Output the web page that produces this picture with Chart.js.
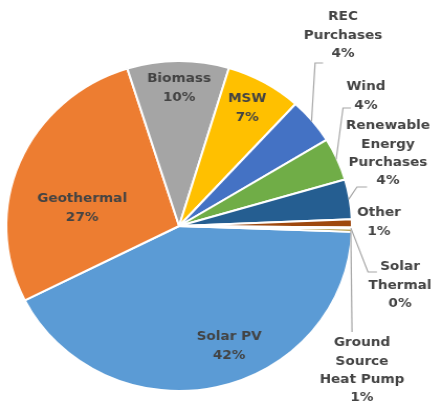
<!DOCTYPE html>
<html>
<head>
<meta charset="utf-8">
<script src="https://cdn.jsdelivr.net/npm/chart.js@4/dist/chart.umd.min.js"></script>
<style>
html,body{margin:0;padding:0;background:#fff;overflow:hidden;}
#wrap{width:422px;height:406px;position:relative;transform:scaleX(1.0474);transform-origin:0 0;}
</style>
</head>
<body>
<div id="wrap"><canvas id="c" width="422" height="406"></canvas></div>
<script>
// Data (Excel series order, clockwise from Solar PV)
const categories = [
  ['Solar PV'], ['Geothermal'], ['Biomass'], ['MSW'], ['REC', 'Purchases'],
  ['Wind'], ['Renewable', 'Energy', 'Purchases'], ['Other'], ['Solar', 'Thermal'],
  ['Ground', 'Source', 'Heat Pump']
];
const values = [42.0, 27.6, 9.5, 7.1, 4.5, 4.2, 3.9, 0.8, 0.1, 0.3];
const pctLabels = ['42%', '27%', '10%', '7%', '4%', '4%', '4%', '1%', '0%', '1%'];
const colors = ['#5B9BD5', '#ED7D31', '#A5A5A5', '#FFC000', '#4472C4', '#70AD47',
                '#255E91', '#9E480E', '#636363', '#997300'];

// Label layout: text anchor (first line centre) as offset from the pie centre, px
const labelLayout = [
  {dx: 47.7, dy: 111}, {dx: -92.6, dy: -27}, {dx: 0, dy: -147}, {dx: 65, dy: -127},
  {dx: 156.5, dy: -209, lead: [[129.8, -163], [137.4, -163]]},
  {dx: 178.4, dy: -139, lead: [[156.5, -118], [164.1, -118]]},
  {dx: 199.4, dy: -100, lead: [[169.8, -39], [179.4, -39]]},
  {dx: 190.8, dy: -13},
  {dx: 210.9, dy: 41, lead: [[180.3, 46], [188.9, 46]]},
  {dx: 174.6, dy: 117, lead: [[165.1, 106]]}
];
const lineH = 18.3;

const labelPlugin = {
  id: 'pieLabels',
  afterDatasetsDraw(chart) {
    const ctx = chart.ctx;
    const meta = chart.getDatasetMeta(0);
    ctx.save();
    meta.data.forEach((arc, i) => {
      const p = arc.getProps(['x', 'y', 'startAngle', 'endAngle', 'outerRadius'], true);
      const L = labelLayout[i];
      if (L.lead) {
        const mid = (p.startAngle + p.endAngle) / 2;
        const r = p.outerRadius - 1;
        ctx.beginPath();
        ctx.strokeStyle = '#A6A6A6';
        ctx.lineWidth = 1.2;
        ctx.moveTo(p.x + r * Math.cos(mid), p.y + r * Math.sin(mid));
        L.lead.forEach(pt => ctx.lineTo(p.x + pt[0], p.y + pt[1]));
        ctx.stroke();
      }
      const lines = categories[i].concat([pctLabels[i]]);
      ctx.fillStyle = '#434343';
      ctx.font = 'bold 13px "DejaVu Sans"';
      ctx.textAlign = 'center';
      ctx.textBaseline = 'middle';
      lines.forEach((t, k) => {
        ctx.fillText(t, p.x + L.dx, p.y + L.dy + k * lineH);
      });
    });
    ctx.restore();
  }
};

new Chart(document.getElementById('c'), {
  type: 'pie',
  data: {
    labels: categories.map(c => c.join(' ')),
    datasets: [{
      data: values,
      backgroundColor: colors,
      borderColor: '#ffffff',
      borderWidth: 2
    }]
  },
  options: {
    responsive: false,
    animation: false,
    rotation: 92,
    layout: {padding: {left: 5, right: 85, top: 60, bottom: 14}},
    plugins: {legend: {display: false}, tooltip: {enabled: false}}
  },
  plugins: [labelPlugin]
});
</script>
</body>
</html>
